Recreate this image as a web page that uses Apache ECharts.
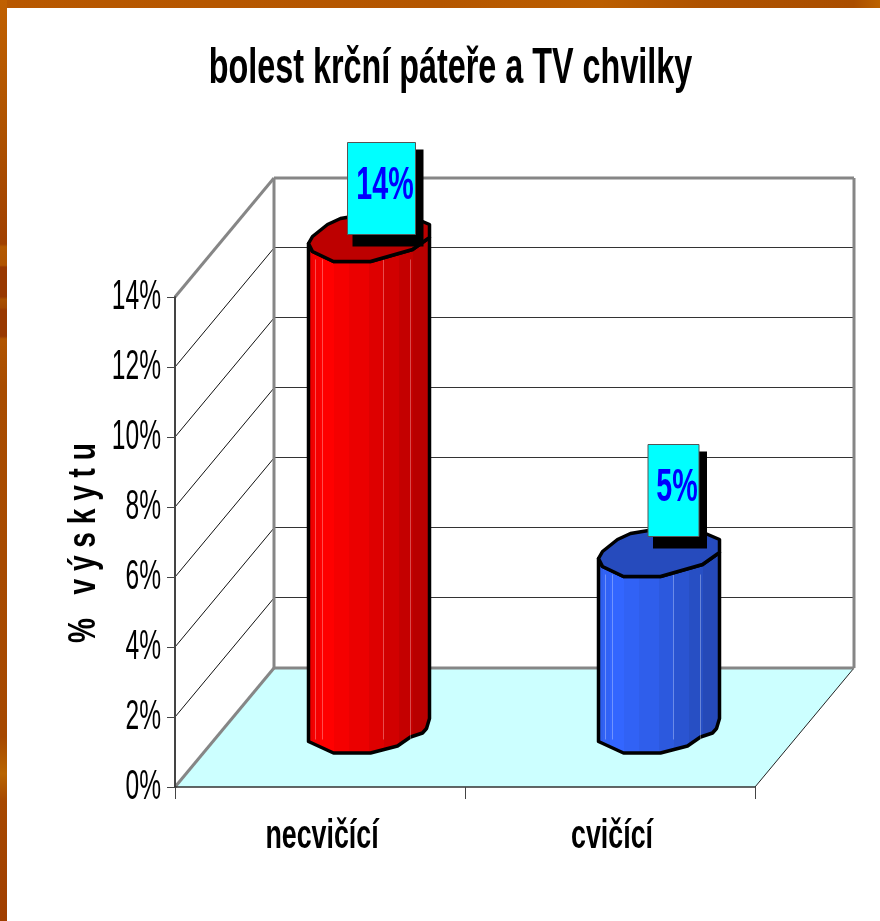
<!DOCTYPE html>
<html>
<head>
<meta charset="utf-8">
<title>bolest krční páteře a TV chvilky</title>
<script src="https://cdn.jsdelivr.net/npm/echarts@6/dist/echarts.min.js"></script>
<style>
    html, body { margin: 0; padding: 0; background: #fff; }
    #chart { width: 880px; height: 921px; }
</style>
</head>
<body>
<div id="chart"></div>
<script>
const chartTitle = "bolest krční páteře a TV chvilky"
const yAxisTitle = "%   v ý s k y t u"
const categories = ["necvičící", "cvičící"]
const values = [14, 5]
const valueLabels = ["14%", "5%"]
const tickValues = [0, 2, 4, 6, 8, 10, 12, 14]
const tickLabels = ["0%", "2%", "4%", "6%", "8%", "10%", "12%", "14%"]
const barColors = ["#ff0000", "#3366ff"]

// 3D look: how far the back wall sits from the front plane
const depthX = 99
const depthY = -119
const textFont = '"Liberation Sans", Arial, sans-serif'

// column outline, relative to the column centre
const topFront = [[-61, 6], [-57, 14], [-36, 24], [1, 24], [43, 12], [60, 0]]
const topBack = [[60, -13], [46, -19], [-11, -22], [-29, -19], [-42, -13], [-57, -1]]
const baseFront = [[-61, 14], [-36, 25.5], [1, 25.5], [28, 18.5], [41, 9.5], [53, 5.5], [57, 1], [60, -9]]
// vertical facets of the column: [end of band 0..1, brightness]
const facets = [[0.05, 0.93], [0.11, 0.96], [0.22, 1], [0.34, 0.96], [0.5, 0.92], [0.62, 0.87], [0.74, 0.82], [0.85, 0.77], [1, 0.72]]
const facetLines = [-54, -47, 14, 41]
// label boxes were placed by hand in the original
const boxWidth = [68, 51]
const boxShift = [-22, -11.5]
const boxLift = [0, 13]

function shade(hex, f) {
    const n = parseInt(hex.slice(1), 16)
    const c = [n >> 16, (n >> 8) & 255, n & 255].map(v => Math.round(v * f))
    return `rgb(${c[0]},${c[1]},${c[2]})`
}

function facetGradient(color) {
    const stops = []
    let from = 0
    facets.forEach(([to, f]) => {
        stops.push({offset: from, color: shade(color, f)})
        stops.push({offset: to, color: shade(color, f)})
        from = to
    })
    return new echarts.graphic.LinearGradient(0, 0, 1, 0, stops)
}

function renderWalls(params, api) {
    const g = params.coordSys
    const left = g.x, right = g.x + g.width
    const yOf = v => api.coord([0, v])[1]
    const y0 = yOf(0), yTop = yOf(tickValues[tickValues.length - 1])
    const children = [{
        type: 'polygon',
        shape: {points: [[left, y0], [right, y0], [right + depthX, y0 + depthY], [left + depthX, y0 + depthY]]},
        style: {fill: '#ccffff', stroke: null}
    }]
    const line = (x1, y1, x2, y2, stroke, lineWidth) => children.push({
        type: 'line',
        shape: {x1, y1, x2, y2},
        style: {stroke, lineWidth}
    })
    tickValues.slice(1, -1).forEach(v => {
        const y = yOf(v)
        line(left, y, left + depthX, y + depthY, '#111', 1)
        line(left + depthX, y + depthY - 0.5, right + depthX, y + depthY - 0.5, '#333', 1)
    })
    line(right, y0, right + depthX, y0 + depthY, '#222', 1)
    // heavy gray frame of the walls
    line(left, y0, left + depthX, y0 + depthY, '#868686', 3)
    line(left, yTop, left + depthX, yTop + depthY, '#868686', 3)
    line(left + depthX, yTop + depthY, right + depthX, yTop + depthY, '#868686', 3)
    line(left + depthX, y0 + depthY, right + depthX, y0 + depthY, '#868686', 3)
    line(left + depthX, y0 + depthY, left + depthX, yTop + depthY, '#868686', 3)
    line(right + depthX, y0 + depthY, right + depthX, yTop + depthY, '#868686', 3)
    return {type: 'group', children}
}

function renderColumn(params, api) {
    const i = params.dataIndex
    const p = api.coord([i, api.value(1)])
    const cx = p[0] + depthX / 2
    const topY = p[1] + depthY / 2
    const baseY = api.coord([i, 0])[1] + depthY / 2
    const at = (list, y) => list.map(q => [cx + q[0], y + q[1]])
    const color = barColors[i]
    const top = at(topFront, topY)
    const children = [{
        type: 'polygon',
        shape: {points: at(baseFront, baseY).concat(top.slice().reverse())},
        style: {fill: facetGradient(color), stroke: '#000', lineWidth: 3.5, lineJoin: 'round'}
    }]
    facetLines.forEach(x => children.push({
        type: 'line',
        shape: {x1: cx + x, y1: topY + 22, x2: cx + x, y2: baseY + 12},
        style: {stroke: 'rgba(255,255,255,0.3)', lineWidth: 1}
    }))
    children.push({
        type: 'polygon',
        shape: {points: top.concat(at(topBack, topY))},
        style: {fill: shade(color, 0.74), stroke: '#000', lineWidth: 3.5, lineJoin: 'round'}
    })
    // value label: cyan box with a black drop shadow
    const w = boxWidth[i]
    const bx = cx + boxShift[i]
    const by = topY - 95 - boxLift[i]
    children.push({
        type: 'rect',
        shape: {x: bx + 5, y: by + 7, width: w + 3, height: 97},
        style: {fill: '#000'}
    }, {
        type: 'rect',
        shape: {x: bx, y: by, width: w, height: 92},
        style: {fill: '#00ffff', stroke: '#555', lineWidth: 1}
    }, {
        type: 'text',
        x: bx + w / 2 + 3.5,
        y: by + 46 - 2.5,
        scaleX: 0.61,
        style: {
            text: valueLabels[i],
            font: 'bold 47px ' + textFont,
            fill: '#0000ff',
            align: 'center',
            verticalAlign: 'middle'
        }
    })
    return {type: 'group', children}
}

function renderTickLabel(params, api) {
    const p = api.coord([0, api.value(0)])
    return {
        type: 'text',
        x: params.coordSys.x - 14,
        y: p[1],
        scaleX: 0.585,
        style: {
            text: tickLabels[params.dataIndex],
            font: '42px ' + textFont,
            fill: '#000',
            align: 'right',
            verticalAlign: 'middle'
        }
    }
}

function renderCategoryLabel(params, api) {
    const p = api.coord([params.dataIndex, 0])
    return {
        type: 'text',
        x: p[0] + 2,
        y: p[1] + 50,
        scaleX: 0.67,
        style: {
            text: categories[params.dataIndex],
            font: 'bold 40px ' + textFont,
            fill: '#000',
            align: 'center',
            verticalAlign: 'middle'
        }
    }
}

// orange slide background showing along the top and left edge
const backdrop = [
    {
        type: 'rect', x: 0, y: 0, z: -1,
        shape: {width: 880, height: 8},
        style: {
            fill: new echarts.graphic.LinearGradient(0, 0, 1, 0, [
                {offset: 0, color: '#b85800'},
                {offset: 0.5, color: '#b45600'},
                {offset: 0.58, color: '#b85a00'},
                {offset: 0.68, color: '#bb5e00'},
                {offset: 0.8, color: '#ae5200'},
                {offset: 0.97, color: '#aa4e00'},
                {offset: 1, color: '#bc6200'}
            ])
        }
    },
    {
        type: 'rect', x: 0, y: 0, z: -1,
        shape: {width: 7, height: 921},
        style: {
            fill: new echarts.graphic.LinearGradient(0, 0, 0, 1, [
                {offset: 0, color: '#c06000'},
                {offset: 0.14, color: '#ae5200'},
                {offset: 0.265, color: '#a04000'},
                {offset: 0.268, color: '#b35800'},
                {offset: 0.288, color: '#b05400'},
                {offset: 0.29, color: '#983800'},
                {offset: 0.322, color: '#983800'},
                {offset: 0.325, color: '#a85000'},
                {offset: 0.334, color: '#a24800'},
                {offset: 0.337, color: '#983800'},
                {offset: 0.365, color: '#983800'},
                {offset: 0.368, color: '#b05400'},
                {offset: 0.42, color: '#a84c00'},
                {offset: 0.8, color: '#a64800'},
                {offset: 0.84, color: '#b86400'},
                {offset: 0.87, color: '#a64800'},
                {offset: 1, color: '#a03e00'}
            ])
        }
    }
]

const chart = echarts.init(document.getElementById('chart'), null, {renderer: 'canvas'})
chart.setOption({
    animation: false,
    backgroundColor: '#ffffff',
    grid: {left: 175, right: 125, top: 297, bottom: 134},
    graphic: backdrop.concat([
        {
            type: 'text',
            x: 450.5,
            y: 69,
            scaleX: 0.647,
            style: {
                text: chartTitle,
                font: 'bold 50px ' + textFont,
                fill: '#000',
                align: 'center',
                verticalAlign: 'middle'
            }
        },
        {
            type: 'text',
            x: 84,
            y: 543,
            rotation: Math.PI / 2,
            scaleX: 0.72,
            style: {
                text: yAxisTitle,
                font: 'bold 39px ' + textFont,
                fill: '#000',
                align: 'center',
                verticalAlign: 'middle'
            }
        }
    ]),
    xAxis: {
        type: 'category',
        data: categories,
        z: 3,
        axisLine: {lineStyle: {color: '#333', width: 1.5}},
        axisTick: {show: true, alignWithLabel: false, length: 12, lineStyle: {color: '#444', width: 1}},
        axisLabel: {show: false},
        splitLine: {show: false}
    },
    yAxis: {
        type: 'value',
        min: 0,
        max: 14,
        interval: 2,
        z: 3,
        axisLine: {show: true, lineStyle: {color: '#444', width: 2}},
        axisTick: {show: true, length: 8, lineStyle: {color: '#444', width: 1}},
        axisLabel: {show: false},
        splitLine: {show: false}
    },
    series: [
        {type: 'custom', z: 1, silent: true, data: [[0]], renderItem: renderWalls},
        {type: 'custom', z: 4, silent: true, data: values.map((v, i) => [i, v]), encode: {x: 0, y: 1}, renderItem: renderColumn},
        {type: 'custom', z: 4, silent: true, data: tickValues.map(v => [v]), encode: {y: 0}, renderItem: renderTickLabel},
        {type: 'custom', z: 4, silent: true, data: categories.map((c, i) => [i]), encode: {x: 0}, renderItem: renderCategoryLabel}
    ]
})
window.addEventListener('resize', () => {
    chart.resize()
})
</script>
</body>
</html>
